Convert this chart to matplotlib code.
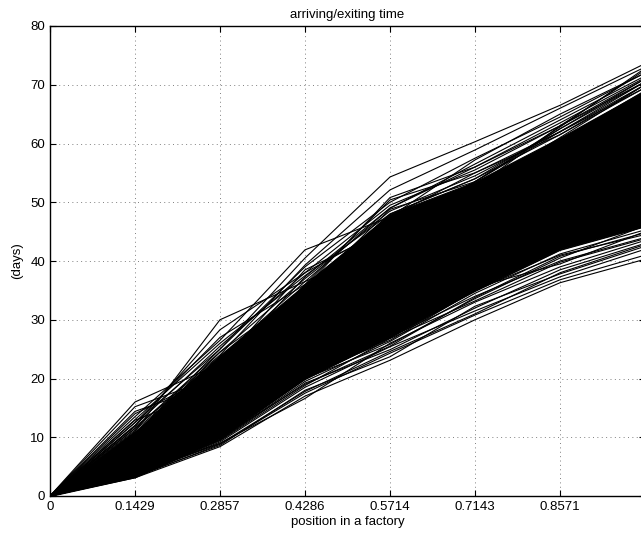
import matplotlib
matplotlib.use("Agg")
import matplotlib.pyplot as plt

plt.rcParams["font.family"] = ["Liberation Sans", "DejaVu Sans"]

# station positions along the line (0 .. 1 in 7 steps)
positions = [0, 1 / 7, 2 / 7, 3 / 7, 4 / 7, 5 / 7, 6 / 7, 1.0]
tick_labels = ["0", "0.1429", "0.2857", "0.4286", "0.5714", "0.7143", "0.8571"]

# solid black bulk of the trajectories (too dense to separate by eye)
core_low = [0, 3.2, 9.8, 20.0, 27.0, 35.0, 42.0, 46.0]
core_high = [0, 11.0, 24.0, 36.0, 48.0, 53.5, 61.0, 69.0]

# individual trajectories that can still be told apart at the edges
upper_paths = [
    [0, 16.0, 22.5, 35.5, 45.0, 52.0, 61.0, 70.0],
    [0, 15.2, 20.5, 33.0, 44.0, 51.5, 60.0, 68.5],
    [0, 14.4, 19.5, 31.0, 41.0, 50.0, 58.0, 66.0],
    [0, 12.9, 18.5, 29.5, 40.0, 49.0, 57.0, 66.5],
    [0, 11.0, 30.0, 36.5, 43.0, 51.0, 60.5, 69.0],
    [0, 12.0, 28.3, 38.0, 46.0, 53.5, 62.0, 70.5],
    [0, 12.5, 25.0, 40.5, 54.3, 60.3, 66.5, 73.6],
    [0, 11.5, 24.0, 39.3, 52.1, 58.9, 66.0, 73.0],
    [0, 13.5, 26.5, 41.9, 47.5, 57.2, 65.0, 72.0],
    [0, 10.8, 22.0, 37.3, 49.0, 56.0, 63.0, 71.0],
    [0, 9.5, 21.5, 36.0, 50.4, 55.0, 62.0, 69.5],
    [0, 10.0, 24.5, 35.0, 48.0, 54.0, 61.5, 70.0],
    [0, 9.0, 20.0, 33.9, 47.0, 53.0, 60.0, 68.0],
    [0, 8.5, 22.5, 38.5, 45.5, 52.5, 63.0, 72.5],
    [0, 11.5, 24.5, 37.0, 48.5, 54.5, 62.0, 70.0],
    [0, 12.0, 25.5, 38.0, 49.5, 55.5, 63.0, 70.5],
    [0, 11.2, 23.5, 36.5, 49.0, 56.5, 64.0, 71.5],
    [0, 13.0, 26.0, 37.5, 48.0, 54.0, 62.5, 71.0],
    [0, 10.5, 25.0, 39.0, 50.0, 57.5, 64.5, 72.0],
    [0, 12.5, 27.0, 36.0, 47.5, 55.0, 61.5, 69.5],
    [0, 11.8, 23.0, 35.5, 50.8, 56.0, 63.5, 71.2],
    [0, 14.0, 21.0, 34.5, 48.8, 53.5, 62.8, 72.8],
]
lower_paths = [
    [0, 3.1, 8.4, 17.0, 23.1, 30.0, 36.3, 40.3],
    [0, 3.2, 8.8, 17.5, 24.3, 30.8, 36.8, 41.0],
    [0, 3.3, 9.2, 18.5, 25.4, 31.5, 37.3, 42.0],
    [0, 3.5, 9.5, 19.2, 24.9, 32.0, 38.5, 43.0],
    [0, 3.8, 9.0, 16.6, 26.0, 33.0, 39.0, 43.5],
    [0, 4.0, 10.0, 19.8, 27.0, 34.0, 40.0, 44.0],
    [0, 4.5, 10.5, 20.5, 26.5, 35.0, 41.0, 44.5],
    [0, 5.0, 11.0, 21.0, 28.5, 35.5, 39.5, 45.0],
    [0, 3.4, 8.6, 18.0, 23.7, 32.3, 37.8, 42.5],
    [0, 4.2, 12.0, 20.0, 25.8, 33.6, 40.5, 46.0],
    [0, 3.6, 9.6, 19.5, 26.3, 34.5, 41.2, 45.3],
    [0, 3.9, 9.9, 19.0, 25.5, 33.8, 40.8, 44.8],
    [0, 4.4, 10.8, 20.3, 27.3, 34.8, 41.8, 45.8],
    [0, 3.3, 9.4, 18.8, 26.8, 33.2, 39.8, 43.8],
    [0, 4.8, 10.2, 21.5, 27.8, 36.0, 42.3, 46.5],
    [0, 3.7, 8.9, 17.8, 24.6, 31.0, 38.0, 42.8],
]
middle_paths = [
    [0, 6.0, 16.0, 30.0, 44.0, 53.5, 62.5, 70.5],
    [0, 7.0, 18.0, 32.0, 40.0, 50.5, 58.5, 67.0],
    [0, 5.5, 14.0, 26.0, 38.0, 48.0, 56.5, 65.0],
]

fig = plt.figure(figsize=(6.41, 5.33), dpi=100)
ax = fig.add_axes([50 / 641, 37 / 533, 595 / 641, 470 / 533])

ax.fill_between(positions, core_low, core_high, color="black", linewidth=0.8, zorder=2)
for path in upper_paths + lower_paths + middle_paths:
    ax.plot(positions, path, color="black", linewidth=0.8, zorder=3)

ax.set_xlim(0, 1)
ax.set_ylim(0, 80)
ax.set_xticks(positions[:-1])
ax.set_xticklabels(tick_labels)
ax.set_yticks(range(0, 81, 10))
ax.tick_params(direction="in", top=True, right=True, length=4, width=0.8, labelsize=9.5, pad=3.5)
ax.grid(True, color="0.5", linestyle=(0, (1, 3.5)), linewidth=0.7)
ax.set_axisbelow(True)
for spine in ax.spines.values():
    spine.set_linewidth(1.0)

ax.set_title("arriving/exiting time", fontsize=9.5, pad=6)
ax.set_xlabel("position in a factory", fontsize=9.5, labelpad=2.5)
ax.set_ylabel("(days)", fontsize=9.5, labelpad=5)

fig.savefig("out.png", dpi=100)
